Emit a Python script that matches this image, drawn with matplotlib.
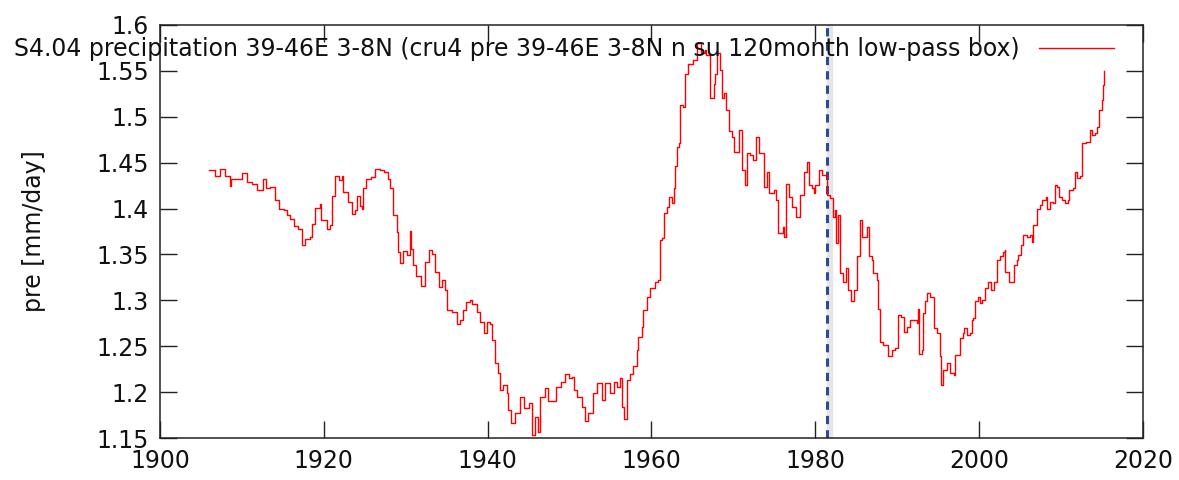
import matplotlib
matplotlib.use("Agg")
import matplotlib.pyplot as plt
from matplotlib.ticker import FuncFormatter

years = [
    1906.0, 1906.7, 1907.3, 1907.9, 1908.5, 1908.7, 1909.6, 1910.0, 1910.6, 1911.2,
    1911.8, 1912.2, 1912.6, 1913.0, 1913.4, 1914.0, 1914.5, 1915.1, 1915.5, 1915.9,
    1916.3, 1916.9, 1917.3, 1917.7, 1918.3, 1918.5, 1918.9, 1919.5, 1919.7, 1920.4,
    1920.8, 1921.0, 1921.4, 1921.8, 1922.2, 1922.4, 1923.0, 1923.4, 1923.8, 1924.0,
    1924.4, 1924.6, 1924.8, 1925.2, 1925.8, 1926.2, 1926.9, 1927.3, 1927.8, 1928.1,
    1928.5, 1928.9, 1929.1, 1929.3, 1929.7, 1930.1, 1930.5, 1930.7, 1930.9, 1931.3,
    1931.9, 1932.4, 1932.8, 1933.2, 1933.6, 1934.0, 1934.4, 1934.8, 1935.0, 1935.6,
    1936.2, 1936.6, 1937.0, 1937.4, 1937.8, 1938.1, 1938.7, 1939.1, 1939.5, 1939.9,
    1940.3, 1940.5, 1940.9, 1941.3, 1941.5, 1941.9, 1942.3, 1942.5, 1942.9, 1943.3,
    1944.0, 1944.4, 1945.0, 1945.4, 1945.8, 1946.2, 1946.4, 1947.0, 1947.4, 1948.2,
    1948.4, 1949.0, 1949.5, 1949.9, 1950.3, 1950.5, 1950.9, 1951.5, 1951.9, 1952.3,
    1952.9, 1953.3, 1953.9, 1954.3, 1954.9, 1955.4, 1955.8, 1956.2, 1956.4, 1956.6,
    1957.0, 1957.4, 1957.8, 1958.2, 1958.4, 1958.8, 1959.0, 1959.4, 1959.8, 1960.4,
    1960.8, 1961.0, 1961.3, 1961.5, 1961.9, 1962.1, 1962.5, 1962.7, 1962.9, 1963.1,
    1963.3, 1963.5, 1963.9, 1964.1, 1964.5, 1965.1, 1965.5, 1966.1, 1966.5, 1966.7,
    1967.1, 1967.6, 1967.8, 1968.0, 1968.4, 1968.6, 1968.9, 1969.1, 1969.4, 1969.8,
    1970.1, 1970.4, 1970.7, 1971.0, 1971.4, 1971.6, 1972.0, 1972.4, 1972.7, 1973.1,
    1973.5, 1973.7, 1974.1, 1974.3, 1974.9, 1975.2, 1975.5, 1976.0, 1976.2, 1976.4,
    1976.8, 1977.1, 1977.7, 1978.1, 1978.6, 1979.0, 1979.2, 1979.6, 1979.8, 1980.0,
    1980.4, 1980.8, 1981.2, 1981.4, 1981.8, 1982.1, 1982.4, 1982.5, 1982.8, 1983.0,
    1983.4, 1983.8, 1984.0, 1984.3, 1984.7, 1985.1, 1985.5, 1985.7, 1986.1, 1986.3,
    1986.6, 1986.9, 1987.1, 1987.5, 1987.7, 1987.9, 1988.3, 1988.9, 1989.3, 1989.7,
    1990.1, 1990.4, 1990.8, 1991.2, 1991.6, 1992.4, 1992.5, 1992.6, 1993.0, 1993.2,
    1993.4, 1993.6, 1994.0, 1994.4, 1994.5, 1994.9, 1995.2, 1995.4, 1995.6, 1996.1,
    1996.5, 1996.9, 1997.1, 1997.5, 1997.6, 1998.0, 1998.2, 1998.5, 1998.9, 1999.1,
    1999.3, 1999.5, 1999.9, 2000.1, 2000.4, 2000.7, 2001.1, 2001.5, 2001.8, 2002.2,
    2002.6, 2002.9, 2003.1, 2003.2, 2003.7, 2004.2, 2004.6, 2004.8, 2005.1, 2005.4,
    2005.8, 2006.2, 2006.4, 2006.6, 2007.0, 2007.1, 2007.4, 2007.7, 2008.1, 2008.3,
    2008.7, 2009.0, 2009.2, 2009.5, 2009.7, 2010.1, 2010.5, 2010.9, 2011.0, 2011.5,
    2011.7, 2012.0, 2012.3, 2012.5, 2013.1, 2013.5, 2013.8, 2014.2, 2014.4, 2014.6,
    2015.0, 2015.1, 2015.3,
]

pre = [
    1.442, 1.436, 1.443, 1.436, 1.425, 1.432, 1.432, 1.439, 1.429, 1.427,
    1.420, 1.420, 1.432, 1.422, 1.423, 1.409, 1.400, 1.398, 1.393, 1.389,
    1.381, 1.378, 1.360, 1.367, 1.369, 1.383, 1.401, 1.405, 1.387, 1.378,
    1.382, 1.414, 1.436, 1.431, 1.436, 1.418, 1.407, 1.394, 1.398, 1.414,
    1.403, 1.400, 1.422, 1.432, 1.434, 1.443, 1.442, 1.440, 1.432, 1.422,
    1.393, 1.375, 1.353, 1.341, 1.354, 1.349, 1.376, 1.356, 1.338, 1.326,
    1.316, 1.342, 1.355, 1.350, 1.331, 1.315, 1.322, 1.311, 1.290, 1.287,
    1.274, 1.279, 1.289, 1.298, 1.300, 1.296, 1.287, 1.276, 1.264, 1.276,
    1.274, 1.257, 1.232, 1.221, 1.202, 1.208, 1.199, 1.180, 1.166, 1.177,
    1.195, 1.183, 1.188, 1.153, 1.173, 1.157, 1.195, 1.204, 1.190, 1.190,
    1.206, 1.211, 1.220, 1.215, 1.217, 1.202, 1.195, 1.184, 1.168, 1.177,
    1.199, 1.210, 1.191, 1.210, 1.199, 1.211, 1.206, 1.215, 1.184, 1.171,
    1.213, 1.220, 1.228, 1.246, 1.260, 1.271, 1.290, 1.304, 1.313, 1.320,
    1.322, 1.366, 1.368, 1.395, 1.402, 1.413, 1.406, 1.422, 1.446, 1.467,
    1.471, 1.513, 1.511, 1.547, 1.558, 1.562, 1.580, 1.569, 1.573, 1.567,
    1.520, 1.536, 1.547, 1.569, 1.551, 1.520, 1.526, 1.507, 1.484, 1.478,
    1.462, 1.462, 1.486, 1.442, 1.426, 1.460, 1.458, 1.453, 1.478, 1.460,
    1.460, 1.424, 1.440, 1.417, 1.420, 1.409, 1.373, 1.380, 1.369, 1.427,
    1.413, 1.402, 1.391, 1.415, 1.440, 1.451, 1.426, 1.422, 1.417, 1.426,
    1.442, 1.437, 1.437, 1.415, 1.411, 1.391, 1.398, 1.362, 1.393, 1.330,
    1.320, 1.335, 1.311, 1.299, 1.311, 1.348, 1.388, 1.369, 1.369, 1.380,
    1.348, 1.344, 1.330, 1.322, 1.291, 1.255, 1.251, 1.239, 1.246, 1.248,
    1.284, 1.282, 1.266, 1.271, 1.279, 1.275, 1.291, 1.242, 1.246, 1.286,
    1.299, 1.308, 1.304, 1.304, 1.270, 1.264, 1.239, 1.208, 1.224, 1.232,
    1.221, 1.219, 1.240, 1.240, 1.259, 1.264, 1.270, 1.262, 1.264, 1.279,
    1.281, 1.299, 1.304, 1.297, 1.300, 1.313, 1.320, 1.311, 1.320, 1.344,
    1.348, 1.353, 1.355, 1.331, 1.320, 1.339, 1.344, 1.349, 1.360, 1.371,
    1.369, 1.371, 1.364, 1.382, 1.389, 1.400, 1.404, 1.409, 1.413, 1.400,
    1.407, 1.406, 1.426, 1.424, 1.413, 1.409, 1.406, 1.409, 1.420, 1.422,
    1.440, 1.433, 1.435, 1.471, 1.473, 1.486, 1.480, 1.482, 1.489, 1.507,
    1.518, 1.535, 1.550,
]

series_label = "S4.04 precipitation 39-46E 3-8N (cru4 pre 39-46E 3-8N n su 120month low-pass box)"
ylabel = "pre [mm/day]"
marker_year = 1981.4
x_ticks = [1900, 1920, 1940, 1960, 1980, 2000, 2020]
y_ticks = [1.15, 1.2, 1.25, 1.3, 1.35, 1.4, 1.45, 1.5, 1.55, 1.6]

plt.rcParams['font.family'] = ['DejaVu Sans']
fig = plt.figure(figsize=(11.79, 4.8), dpi=100)
ax = fig.add_axes([160/1179, 1 - 438/480, (1143-160)/1179, (438-25)/480])

ax.axvline(marker_year + 0.45, color='#e6e6e6', lw=4.5, zorder=1)
ax.axvline(marker_year, color='#2a4d8f', lw=2.2, ls=(0, (2.7, 2.0)), zorder=2)
ax.plot(years, pre, color='#ff0000', lw=1.0, drawstyle='steps-post', label=series_label, zorder=3)

ax.set_xlim(1900, 2020)
ax.set_ylim(1.15, 1.6)
ax.set_xticks(x_ticks)
ax.set_yticks(y_ticks)
ax.yaxis.set_major_formatter(FuncFormatter(lambda v, p: ('%g' % round(v, 2))))
ax.tick_params(direction='in', length=12, width=1, top=True, right=True, labelsize=17,
               color='#222222', labelcolor='#111111', pad=8)
for s in ax.spines.values():
    s.set_linewidth(1.1)
    s.set_color('#222222')
ax.set_ylabel(ylabel, fontsize=17, labelpad=36, color='#111111')

leg = ax.legend(loc='upper right', bbox_to_anchor=(0.985, 1.005), frameon=False, markerfirst=False,
                fontsize=17, handlelength=3.2, handletextpad=0.8, borderaxespad=0.2)
for t in leg.get_texts():
    t.set_color('#111111')

fig.savefig('out.png', dpi=100)
